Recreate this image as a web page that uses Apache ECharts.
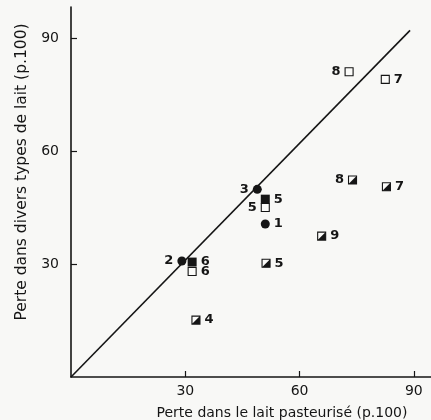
<!DOCTYPE html>
<html><head><meta charset="utf-8">
<script src="https://cdn.jsdelivr.net/npm/echarts@6/dist/echarts.min.js"></script>
<style>html,body{margin:0;padding:0;background:#f8f8f6;}#c{width:431px;height:420px;}</style>
</head><body><div id="c"></div>
<script>
// Data: [x (pasteurised loss %), y (other milk loss %)]
const openSquares = [[73, 81], [82.5, 79], [51, 45], [31.8, 28]];
const openSquareLabels = ['8', '7', '5', '6'];
const filledSquares = [[51, 47.2], [31.8, 30.5]];
const filledSquareLabels = ['5', '6'];
const halfSquares = [[73.9, 52.3], [82.8, 50.5], [65.8, 37.4], [51.2, 30.2], [32.8, 15.1]];
const halfSquareLabels = ['8', '7', '9', '5', '4'];
const circles = [[48.9, 49.8], [51, 40.6], [29.1, 30.8]];
const circleLabels = ['3', '1', '2'];
const diagonal = [[0, 0], [89, 92]];
const xTicks = [0, 30, 60, 90];
const yTicks = [0, 30, 60, 90];

// label sides (style)
const openSquareSide = ['left', 'right', 'left', 'right'];
const filledSquareSide = ['right', 'right'];
const halfSquareSide = ['left', 'right', 'right', 'right', 'right'];
const circleSide = ['left', 'right', 'left'];

const ink = '#151515';
const font = 'DejaVu Sans';

function pts(vals, labels, sides) {
  return vals.map((v, i) => ({
    value: v,
    label: { show: true, formatter: labels[i], position: sides[i], distance: 4,
      color: ink, fontFamily: font, fontSize: 13, fontWeight: 'bold' }
  }));
}
function ptsNoLabel(vals) { return vals.map(v => ({ value: v })); }

const chart = echarts.init(document.getElementById('c'), null, { renderer: 'canvas' });
chart.setOption({
  backgroundColor: '#f8f8f6',
  animation: false,
  grid: { left: 71, right: 0, top: 7, bottom: 43, containLabel: false, outerBoundsMode: 'none' },
  xAxis: {
    type: 'value', min: 0, max: 94.5, interval: 30,
    name: 'Perte dans le lait pasteurisé (p.100)',
    nameLocation: 'middle', nameGap: 29,
    nameTextStyle: { color: ink, fontFamily: font, fontSize: 14, padding: [0, 0, 0, 62] },
    axisLine: { show: true, lineStyle: { color: ink, width: 1.6 } },
    axisTick: { show: true, inside: true, length: 6, lineStyle: { color: ink, width: 1.2 } },
    axisLabel: { color: ink, fontFamily: font, fontSize: 14, margin: 7,
      showMinLabel: false, showMaxLabel: false,
      formatter: v => xTicks.indexOf(v) >= 0 ? String(v) : '' },
    splitLine: { show: false }
  },
  yAxis: {
    type: 'value', min: 0, max: 98.2, interval: 30,
    name: 'Perte dans divers types de lait (p.100)',
    nameLocation: 'middle', nameGap: 36,
    nameTextStyle: { color: ink, fontFamily: font, fontSize: 15.5, padding: [0, 0, 0, 40] },
    axisLine: { show: true, lineStyle: { color: ink, width: 1.6 } },
    axisTick: { show: true, inside: true, length: 6, lineStyle: { color: ink, width: 1.2 } },
    axisLabel: { color: ink, fontFamily: font, fontSize: 14, margin: 12,
      showMinLabel: false, showMaxLabel: false,
      formatter: v => yTicks.indexOf(v) >= 0 ? String(v) : '' },
    splitLine: { show: false }
  },
  series: [
    { type: 'line', data: diagonal, showSymbol: false, symbol: 'none',
      lineStyle: { color: ink, width: 1.6 }, z: 1 },
    { type: 'scatter', data: pts(openSquares, openSquareLabels, openSquareSide),
      symbol: 'rect', symbolSize: 8,
      itemStyle: { color: '#fbfbf9', borderColor: ink, borderWidth: 1.1, opacity: 1 }, z: 3 },
    { type: 'scatter', data: pts(filledSquares, filledSquareLabels, filledSquareSide),
      symbol: 'rect', symbolSize: 9,
      itemStyle: { color: ink, opacity: 1 }, z: 4 },
    { type: 'scatter', data: pts(halfSquares, halfSquareLabels, halfSquareSide),
      symbol: 'rect', symbolSize: 8,
      itemStyle: { color: '#fbfbf9', borderColor: ink, borderWidth: 1.1, opacity: 1 }, z: 3 },
    { type: 'scatter', data: ptsNoLabel(halfSquares),
      symbol: 'path://M10,0 L10,10 L0,10 Z', symbolSize: 8,
      itemStyle: { color: ink, opacity: 1 }, z: 4 },
    { type: 'scatter', data: pts(circles, circleLabels, circleSide),
      symbol: 'circle', symbolSize: 9,
      itemStyle: { color: ink, opacity: 1 }, z: 5 }
  ]
});
</script>
</body></html>
